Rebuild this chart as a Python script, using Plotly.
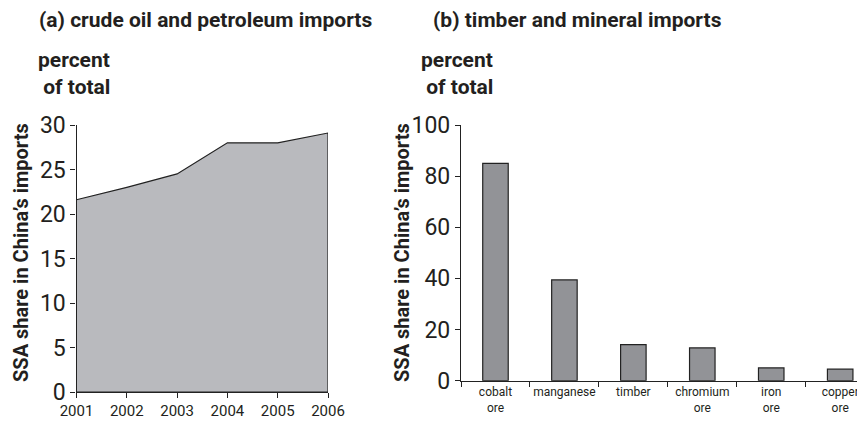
import plotly.graph_objects as go

# (a) crude oil and petroleum imports
years = [2001, 2002, 2003, 2004, 2005, 2006]
oil_share = [21.6, 23.0, 24.5, 28.0, 28.0, 29.1]

# (b) timber and mineral imports
goods = ["cobalt<br>ore", "manganese", "timber", "chromium<br>ore", "iron<br>ore", "copper<br>ore"]
goods_share = [85.0, 39.4, 14.1, 12.8, 5.0, 4.5]

FONT = "Roboto, sans-serif"
# the page body adds an 8px margin, so the figure is laid out in window coordinates minus 8
OFF = 8
W, H = 865 - OFF, 430 - OFF


def px(x):
    return (x - OFF) / W


def py(y):
    return 1 - (y - OFF) / H


fig = go.Figure()

# closed polygon under the oil series
fig.add_trace(go.Scatter(
    x=years + [years[-1], years[0]],
    y=oil_share + [0, 0],
    fill="toself",
    fillcolor="#b9babe",
    mode="lines",
    line=dict(color="#222222", width=1.2),
    xaxis="x", yaxis="y",
    hoverinfo="skip",
))

fig.add_trace(go.Bar(
    x=goods,
    y=goods_share,
    width=0.37,
    marker=dict(color="#929397", line=dict(color="#222222", width=1.2)),
    xaxis="x2", yaxis="y2",
))

axis_common = dict(
    showgrid=False, zeroline=False, showline=True, automargin=False,
    linecolor="#222222", linewidth=1.2,
    ticks="outside", ticklen=5, tickcolor="#222222", tickwidth=1.2,
    fixedrange=True,
)

fig.update_layout(
    width=W, height=H,
    margin=dict(l=0, r=0, t=0, b=0),
    paper_bgcolor="white", plot_bgcolor="white",
    showlegend=False,
    font=dict(family=FONT, color="#231f20"),
    xaxis=dict(
        domain=[px(76.5), px(328)], range=[2001, 2006],
        tickvals=years, tickfont=dict(size=15), tickangle=0,
        anchor="y", **axis_common,
    ),
    yaxis=dict(
        domain=[py(392), py(125)], range=[0, 30],
        tickvals=[0, 5, 10, 15, 20, 25, 30], tickfont=dict(size=23),
        anchor="x", **axis_common,
    ),
    xaxis2=dict(
        domain=[px(461), 1.0], range=[-0.5, 5.36],
        tickson="boundaries", tickfont=dict(size=12), tickangle=0,
        anchor="y2", **axis_common,
    ),
    yaxis2=dict(
        domain=[py(380.7), py(125)], range=[0, 100],
        tickvals=[0, 20, 40, 60, 80, 100], tickfont=dict(size=23),
        anchor="x2", **axis_common,
    ),
)

titles = [
    ("(a) crude oil and petroleum imports", 37),
    ("(b) timber and mineral imports", 431),
]
for t, x in titles:
    fig.add_annotation(text="<b>" + t + "</b>", x=px(x), y=py(20), xref="paper", yref="paper",
                       xanchor="left", yanchor="middle", showarrow=False, font=dict(size=21))

for x in (36, 419):
    fig.add_annotation(text="<b>percent<br> of total</b>", x=px(x), y=py(74),
                       xref="paper", yref="paper", xanchor="left", yanchor="middle",
                       align="left", showarrow=False, font=dict(size=21))

for x in (21, 402):
    fig.add_annotation(text="<b>SSA share in China’s imports</b>", x=px(x), y=py(253),
                       xref="paper", yref="paper", xanchor="center", yanchor="middle",
                       textangle=-90, showarrow=False, font=dict(size=20))

fig.write_html("out.html")
